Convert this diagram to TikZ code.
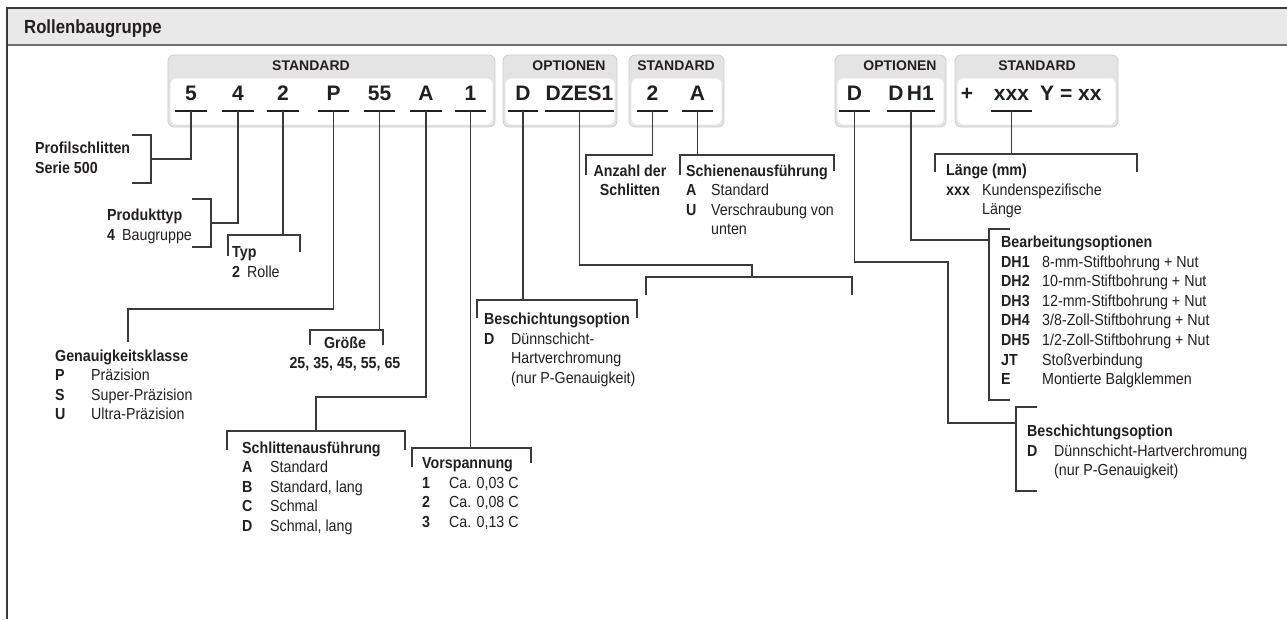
\documentclass[tikz,border=0pt]{standalone}
\usepackage{fontspec}
\setmainfont{Liberation Sans}[FakeStretch=0.89]
\newfontfamily\codefont{Liberation Sans}
\newfontfamily\titlefont{Liberation Sans}[FakeStretch=0.88]
\definecolor{ink}{HTML}{231F20}
\definecolor{rule}{HTML}{3A3A3A}
\definecolor{band}{HTML}{E9E9EA}
\definecolor{bandline}{HTML}{707070}
\definecolor{boxhead}{HTML}{E4E4E5}
\definecolor{boxline}{HTML}{CDCDCF}
% list block: first column of fixed width, second column free
\newcommand\blockrows[2]{\begin{tabular}[t]{@{}p{#1}@{}l@{}}#2\end{tabular}}
\newcommand\blockhead[1]{\multicolumn{2}{@{}l@{}}{\bfseries #1}}
\begin{document}
\begin{tikzpicture}[x=1pt,y=-1pt,
  every node/.style={inner sep=0pt, text=ink},
  lead/.style={draw=rule, line width=1.1pt},
  uline/.style={draw=ink, line width=1.5pt},
  codefield/.style={font=\codefont\fontsize{21}{21}\selectfont\bfseries, anchor=south,
    text depth=0pt, inner ysep=10.5pt, minimum width=#1},
  codefield/.default=31pt,
  hdr/.style={font=\codefont\fontsize{14}{14}\selectfont\bfseries, anchor=base},
  lbl/.style={font=\fontsize{16}{19.6}\selectfont, anchor=base west},
  lblc/.style={font=\fontsize{16}{19.6}\selectfont, anchor=base},
  outerbox/.style={fill=boxhead, draw=boxline, line width=0.8pt, rounded corners=6pt},
  innerbox/.style={fill=white, draw=boxline!60, line width=0.6pt, rounded corners=6pt},
]
\useasboundingbox (0,0) rectangle (1287,619);

% ---- frame and title band ----
\fill[band] (7,8) rectangle (1287,45);
\draw[bandline, line width=1.5pt] (7,45) -- (1287,45);
\draw[rule, line width=2pt] (7,619) -- (7,8) -- (1287,8);
\node[font=\titlefont\fontsize{19}{19}\selectfont\bfseries, anchor=base west] (title) at (24,33.5) {Rollenbaugruppe};

% ---- code boxes ----
\foreach \xa/\xb in {168/495, 503/617, 629/724, 835/946, 955/1118}{
  \draw[outerbox] (\xa,55) rectangle (\xb,127);
  \draw[innerbox] (\xa+2,78) rectangle (\xb-2,125);
}
\node[hdr] (h1) at (311,70) {STANDARD};
\node[hdr] (h2) at (569,70) {OPTIONEN};
\node[hdr] (h3) at (676,70) {STANDARD};
\node[hdr] (h4) at (900,70) {OPTIONEN};
\node[hdr] (h5) at (1037,70) {STANDARD};

% ---- code fields ----
\node[codefield] (c5) at (191,111) {5};
\node[codefield] (c4) at (238,111) {4};
\node[codefield] (c2) at (283,111) {2};
\node[codefield=30pt] (cP) at (333.5,111) {P};
\node[codefield=30pt] (c55) at (379.5,111) {55};
\node[codefield] (cA) at (426,111) {A};
\node[codefield=30pt] (c1) at (470.5,111) {1};
\node[codefield=30pt] (cD) at (523,111) {D};
\node[codefield=65pt] (cDZ) at (579.5,111) {DZES1};
\node[codefield] (cN) at (652.5,111) {2};
\node[codefield] (cS) at (697.5,111) {A};
\node[codefield=30pt] (cD2) at (854.5,111) {D};
\node[codefield=48pt] (cDH) at (911,111) {D\,H1};
\node[codefield=41pt] (cX) at (1011.5,111) {xxx};
\node[font=\codefont\fontsize{21}{21}\selectfont\bfseries, anchor=base] (plus) at (967,100.5) {+};
\node[font=\codefont\fontsize{21}{21}\selectfont\bfseries, anchor=base west] (yxx) at (1040,100.5) {Y = xx};
\foreach \c in {c5,c4,c2,cP,c55,cA,c1,cD,cDZ,cN,cS,cD2,cDH,cX}{
  \draw[uline] (\c.south west) -- (\c.south east);
}

% ---- Profilschlitten Serie 500 ----
\coordinate (kProfil) at (151,159);
\draw[lead] (c5.south) |- (kProfil);
\draw[lead] (132,135) -| (151,183) -- (132,183);
\node[lbl] (profil) at (35,153.5) {\blockrows{0pt}{\blockhead{Profilschlitten}\\ \blockhead{Serie 500}}};

% ---- Produkttyp ----
\coordinate (kProd) at (211,223);
\draw[lead] (c4.south) |- (kProd);
\draw[lead] (192,199) -| (211,247) -- (192,247);
\node[lbl] (prod) at (107,220.5) {\blockrows{15pt}{\blockhead{Produkttyp}\\ \bfseries 4 & Baugruppe}};

% ---- Typ ----
\coordinate (kTyp) at (283,235);
\draw[lead] (c2.south) -- (kTyp);
\draw[lead] (228,256) -- (228,235) -- (300,235) -- (300,252);
\node[lbl] (typ) at (232,257.5) {\blockrows{15pt}{\blockhead{Typ}\\ \bfseries 2 & Rolle}};

% ---- Genauigkeitsklasse ----
\coordinate (kGen1) at (128,309);
\coordinate (kGen2) at (128,342);
\draw[lead] (cP.south) |- (kGen1) -- (kGen2);
\node[lbl] (genau) at (55,361) {\blockrows{36pt}{\blockhead{Genauigkeitsklasse}\\
  \bfseries P & Präzision\\ \bfseries S & Super-Präzision\\ \bfseries U & Ultra-Präzision}};

% ---- Größe ----
\coordinate (kGr) at (379.5,330);
\draw[lead] (c55.south) -- (kGr);
\draw[lead] (310,345) -- (310,330) -- (383,330) -- (383,345);
\node[lblc] (groesse) at (345,348.5) {\begin{tabular}[t]{@{}c@{}}\bfseries Größe\\ \bfseries 25, 35, 45, 55, 65\end{tabular}};

% ---- Schlittenausführung ----
\coordinate (kSa1) at (316,397);
\coordinate (kSa2) at (316,431);
\draw[lead] (cA.south) |- (kSa1) -- (kSa2);
\draw[lead] (227,450) -- (227,431) -- (405,431) -- (405,450);
\node[lbl] (schlitten) at (242,453) {\blockrows{28pt}{\blockhead{Schlittenausführung}\\
  \bfseries A & Standard\\ \bfseries B & Standard, lang\\ \bfseries C & Schmal\\ \bfseries D & Schmal, lang}};

% ---- Vorspannung ----
\coordinate (kVor) at (470.5,448);
\draw[lead] (c1.south) -- (kVor);
\draw[lead] (412,467) -- (412,448) -- (531,448) -- (531,463);
\node[lbl] (vorsp) at (422,468.5) {\blockrows{27pt}{\blockhead{Vorspannung}\\
  \bfseries 1 & Ca. 0,03 C\\ \bfseries 2 & Ca. 0,08 C\\ \bfseries 3 & Ca. 0,13 C}};

% ---- Beschichtungsoption (Schlitten) ----
\coordinate (kBes) at (523,300);
\draw[lead] (cD.south) -- (kBes);
\draw[lead] (477,318) -- (477,300) -- (637,300) -- (637,318);
\node[lbl] (besch1) at (484,324.5) {\blockrows{27pt}{\blockhead{Beschichtungsoption}\\
  \bfseries D & Dünnschicht-\\ & Hartverchromung\\ & (nur P-Genauigkeit)}};

% ---- DZES1 ----
\coordinate (kDz1) at (579.5,265);
\coordinate (kDz2) at (752,265);
\coordinate (kDz3) at (752,277);
\draw[lead] (cDZ.south) -- (kDz1) -- (kDz2) -- (kDz3);
\draw[lead] (646,295) -- (646,277) -- (852,277) -- (852,295);

% ---- Anzahl der Schlitten ----
\coordinate (kAnz) at (652.5,155);
\draw[lead] (cN.south) -- (kAnz);
\draw[lead] (586,175) -- (586,155) -- (kAnz);
\node[lblc] (anzahl) at (630,176) {\begin{tabular}[t]{@{}c@{}}\bfseries Anzahl der\\ \bfseries Schlitten\end{tabular}};

% ---- Schienenausführung ----
\coordinate (kSch) at (697.5,155);
\draw[lead] (cS.south) -- (kSch);
\draw[lead] (680,175) -- (680,155) -- (834,155) -- (834,171);
\node[lbl] (schiene) at (686,176) {\blockrows{25pt}{\blockhead{Schienenausführung}\\
  \bfseries A & Standard\\ \bfseries U & Verschraubung von\\ & unten}};

% ---- Länge ----
\coordinate (kLen) at (1011.5,154);
\draw[lead] (cX.south) -- (kLen);
\draw[lead] (935,172) -- (935,154) -- (1137,154) -- (1137,172);
\node[lbl] (laenge) at (946,175.5) {\blockrows{36pt}{\blockhead{Länge (mm)}\\
  \bfseries xxx & Kundenspezifische\\ & Länge}};

% ---- Bearbeitungsoptionen ----
\coordinate (kBea) at (989,240);
\draw[lead] (cDH.south) |- (kBea);
\draw[lead] (1010,229) -| (989,400) -- (1010,400);
\node[lbl] (bearb) at (1001,247.5) {\blockrows{41pt}{\blockhead{Bearbeitungsoptionen}\\
  \bfseries DH1 & 8-mm-Stiftbohrung + Nut\\
  \bfseries DH2 & 10-mm-Stiftbohrung + Nut\\
  \bfseries DH3 & 12-mm-Stiftbohrung + Nut\\
  \bfseries DH4 & 3/8-Zoll-Stiftbohrung + Nut\\
  \bfseries DH5 & 1/2-Zoll-Stiftbohrung + Nut\\
  \bfseries JT & Stoßverbindung\\
  \bfseries E & Montierte Balgklemmen}};

% ---- Beschichtungsoption (Schiene) ----
\coordinate (kBs1) at (948,262);
\coordinate (kBs2) at (1016,423);
\draw[lead] (cD2.south) |- (kBs1) |- (kBs2);
\draw[lead] (1037,407) -| (1016,491) -- (1037,491);
\node[lbl] (besch2) at (1027,436.5) {\blockrows{27pt}{\blockhead{Beschichtungsoption}\\
  \bfseries D & Dünnschicht-Hartverchromung\\ & (nur P-Genauigkeit)}};
\end{tikzpicture}
\end{document}
